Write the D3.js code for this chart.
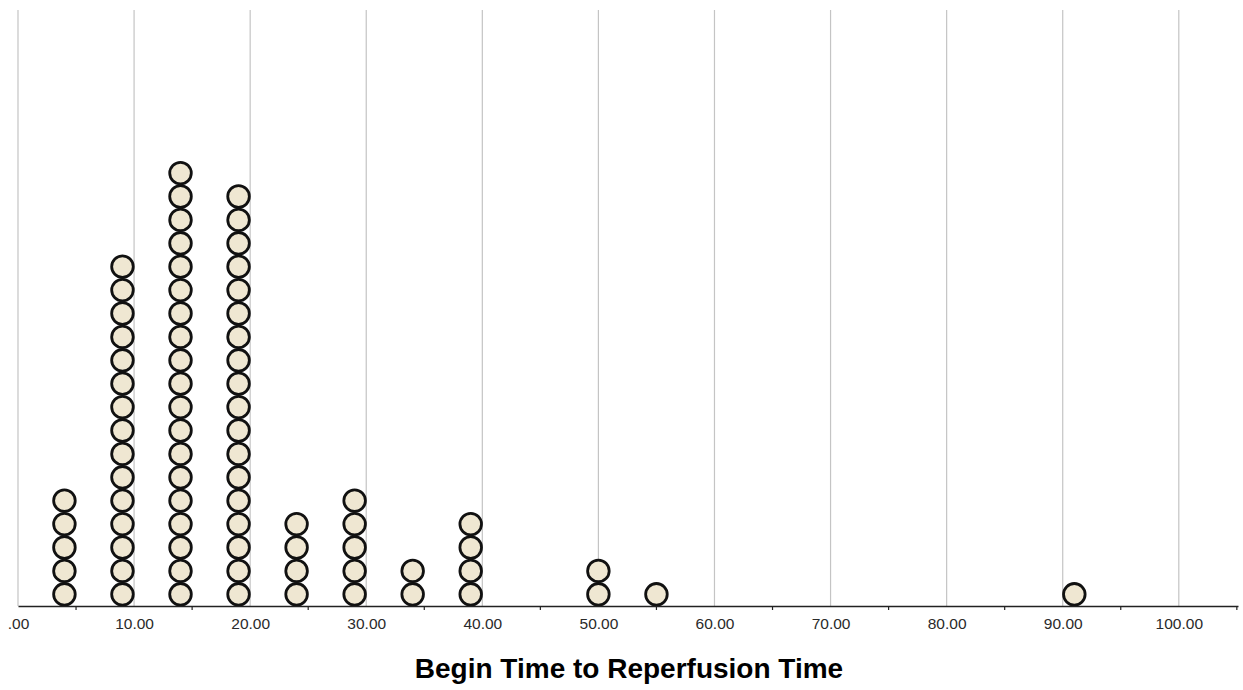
<!DOCTYPE html>
<html>
<head>
<meta charset="utf-8">
<script src="https://cdn.jsdelivr.net/npm/d3@7"></script>
<style>
  body { margin: 0; background: #fff; }
  .tick text { font-family: Arial, "Liberation Sans", sans-serif; font-size: 15.5px; fill: #2a2a2a; }
</style>
</head>
<body>
<div class="DotChart"></div>
<script>
// bin centres and number of cases stacked at each
var binValues = [4, 9, 14, 19, 24, 29, 34, 39, 50, 55, 91];
var binCounts = [5, 15, 19, 18, 4, 5, 2, 4, 2, 1, 1];
var gridTicks = [0, 10, 20, 30, 40, 50, 60, 70, 80, 90, 100];
var minorTicks = [5, 15, 25, 35, 45, 55, 65, 75, 85, 95, 105];
var xTitle = "Begin Time to Reperfusion Time";

var margin = {top: 10, right: 5, bottom: 84, left: 18},
    width = 1243 - margin.left - margin.right,
    height = 690 - margin.top - margin.bottom;

var svg = d3.select(".DotChart").append("svg")
    .attr("width", width + margin.left + margin.right)
    .attr("height", height + margin.top + margin.bottom)
  .append("g")
    .attr("transform", "translate(" + margin.left + "," + margin.top + ")");

var x = d3.scaleLinear()
    .domain([0, 105.1])
    .range([0, width]);

// one unit = one stacked dot
var dotStep = 23.4;
var y = d3.scaleLinear()
    .domain([0, height / dotStep])
    .range([height, 0]);

// gridlines
svg.selectAll(".grid")
    .data(gridTicks)
    .enter().append("line")
    .attr("class", "grid")
    .attr("x1", function(d){ return x(d); })
    .attr("x2", function(d){ return x(d); })
    .attr("y1", 0)
    .attr("y2", height)
    .attr("stroke", "#c4c4c4")
    .attr("stroke-width", 1.2);

// expand bins to individual dots
var dots = [];
binValues.forEach(function(v, i){
  for (var k = 0; k < binCounts[i]; k++) dots.push({value: v, level: k});
});

svg.selectAll(".dot")
    .data(dots)
    .enter().append("circle")
    .attr("class", "dot")
    .attr("cx", function(d){ return x(d.value); })
    .attr("cy", function(d){ return y(d.level + 0.5); })
    .attr("r", 10.8)
    .attr("fill", "#efe7d2")
    .attr("stroke", "#111")
    .attr("stroke-width", 2.8);

// axis: labels at the 10s, small tick marks at the 5s
var xAxis = d3.axisBottom(x)
    .tickValues(gridTicks)
    .tickSize(0)
    .tickPadding(12)
    .tickFormat(function(d){ return d === 0 ? ".00" : d3.format(".2f")(d); });

var gx = svg.append("g")
    .attr("class", "x axis")
    .attr("transform", "translate(0," + height + ")")
    .call(xAxis);
gx.select(".domain").attr("stroke", "#222").attr("stroke-width", 1.6);

svg.selectAll(".minor")
    .data(minorTicks)
    .enter().append("line")
    .attr("class", "minor")
    .attr("x1", function(d){ return x(d); })
    .attr("x2", function(d){ return x(d); })
    .attr("y1", height)
    .attr("y2", height + 4)
    .attr("stroke", "#222")
    .attr("stroke-width", 1.2);

svg.append("text")
    .attr("text-anchor", "middle")
    .attr("x", 629 - margin.left)
    .attr("y", height + 72)
    .style("font-family", "Arial, 'Liberation Sans', sans-serif")
    .style("font-weight", "bold")
    .style("font-size", "28px")
    .style("fill", "#000")
    .text(xTitle);
</script>
</body>
</html>
